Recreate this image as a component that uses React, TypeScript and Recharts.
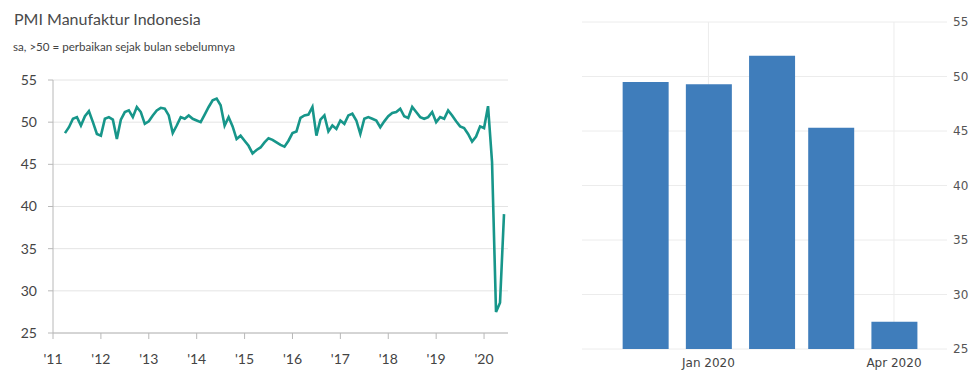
import { LineChart, Line, XAxis, YAxis, CartesianGrid, BarChart, Bar } from 'recharts';

// PMI Manufaktur Indonesia, monthly
const pmi2011 = [48.7, 49.4, 50.4, 50.6, 49.6, 50.7, 51.3, 50.0, 48.6]; // Apr–Dec
const pmi2012 = [48.4, 50.4, 50.6, 50.3, 48.0, 50.3, 51.2, 51.4, 50.6, 51.8, 51.2, 49.8];
const pmi2013 = [50.1, 50.8, 51.4, 51.7, 51.6, 50.8, 48.7, 49.6, 50.6, 50.4, 50.8, 50.4];
const pmi2014 = [50.2, 50.0, 50.9, 51.8, 52.6, 52.8, 52.0, 49.6, 50.6, 49.5, 48.0, 48.4];
const pmi2015 = [47.8, 47.2, 46.3, 46.7, 47.0, 47.6, 48.1, 47.9, 47.6, 47.3, 47.1, 47.8];
const pmi2016 = [48.7, 48.9, 50.5, 50.8, 50.9, 51.8, 48.4, 50.3, 50.8, 48.9, 49.6, 49.2];
const pmi2017 = [50.2, 49.8, 50.8, 51.0, 50.2, 48.6, 50.4, 50.6, 50.4, 50.2, 49.4, 50.1];
const pmi2018 = [50.7, 51.1, 51.2, 51.6, 50.7, 50.5, 51.8, 51.2, 50.6, 50.4, 50.6, 51.2];
const pmi2019 = [50.0, 50.6, 50.4, 51.4, 50.8, 50.1, 49.5, 49.3, 48.6, 47.7, 48.3, 49.5];
const pmi2020 = [49.3, 51.9, 45.3, 27.5, 28.6, 39.1]; // Jan–Jun

const yearTicks = [2011, 2012, 2013, 2014, 2015, 2016, 2017, 2018, 2019, 2020];
const pmiTicks = [25, 30, 35, 40, 45, 50, 55];

// right panel: last five months
const barMonths = ['2019-12', '2020-01', '2020-02', '2020-03', '2020-04'];
const barValues = [49.5, 49.3, 51.9, 45.3, 27.5];
const barTickMonths = ['2020-01', '2020-04'];
const monthNames = ['Jan', 'Feb', 'Mar', 'Apr', 'May', 'Jun', 'Jul', 'Aug', 'Sep', 'Oct', 'Nov', 'Dec'];

const pmiByYear: [number, number[]][] = [
  [2011, pmi2011],
  [2012, pmi2012],
  [2013, pmi2013],
  [2014, pmi2014],
  [2015, pmi2015],
  [2016, pmi2016],
  [2017, pmi2017],
  [2018, pmi2018],
  [2019, pmi2019],
  [2020, pmi2020]
];

const lineData = pmiByYear.flatMap(([year, vals]) => {
  const first = year === 2011 ? 12 - vals.length : 0;
  return vals.map((v, i) => ({ t: year + (first + i) / 12, pmi: v }));
});

const toTime = (m: string) => Date.UTC(Number(m.slice(0, 4)), Number(m.slice(5, 7)) - 1, 1);
const barData = barMonths.map((m, i) => ({ t: toTime(m), pmi: barValues[i] }));
const barTicks = barTickMonths.map(toTime);

const NARROW = "Lato, 'Open Sans', sans-serif";
const WIDE = "'DejaVu Sans', Verdana, sans-serif";

export default function App() {
  return (
    <div style={{ position: 'absolute', left: 0, top: 0, width: 970, height: 371, background: '#fff', overflow: 'hidden' }}>
      <div style={{ position: 'absolute', left: 14, top: 9, fontFamily: NARROW, fontSize: 16, color: '#4a4a4a', whiteSpace: 'nowrap' }}>
        PMI Manufaktur Indonesia
      </div>
      <div style={{ position: 'absolute', left: 13, top: 40, fontFamily: NARROW, fontSize: 11.6, color: '#444', whiteSpace: 'nowrap' }}>
        sa, &gt;50 = perbaikan sejak bulan sebelumnya
      </div>

      <div style={{ position: 'absolute', left: 0, top: 0 }}>
        <LineChart width={520} height={371} data={lineData} margin={{ top: 80, right: 12, left: 0, bottom: 0 }}>
          <CartesianGrid vertical={false} stroke="#e4e4e4" />
          <XAxis
            dataKey="t"
            type="number"
            domain={[2011, 2020.5]}
            ticks={yearTicks}
            tickFormatter={(v: number) => `'${String(v).slice(2)}`}
            height={38}
            stroke="#b8b8b8"
            tickSize={6}
            tickMargin={15}
            tick={{ fill: '#444', fontSize: 14, fontFamily: NARROW }}
          />
          <YAxis
            domain={[25, 55]}
            ticks={pmiTicks}
            width={53}
            stroke="#b8b8b8"
            tickSize={5}
            tickMargin={11}
            tick={{ fill: '#444', fontSize: 14, fontFamily: NARROW }}
          />
          <Line
            type="linear"
            dataKey="pmi"
            stroke="#17968a"
            strokeWidth={2.6}
            dot={false}
            isAnimationActive={false}
          />
        </LineChart>
      </div>

      <div style={{ position: 'absolute', left: 560, top: 0 }}>
        <BarChart width={410} height={371} data={barData} margin={{ top: 22, right: 0, left: 22, bottom: 0 }}>
          <CartesianGrid stroke="#ececec" syncWithTicks />
          <XAxis
            dataKey="t"
            type="number"
            scale="linear"
            domain={[Date.UTC(2019, 9, 31), Date.UTC(2020, 3, 27)]}
            ticks={barTicks}
            tickFormatter={(v: number) => {
              const d = new Date(v);
              return `${monthNames[d.getUTCMonth()]} ${d.getUTCFullYear()}`;
            }}
            height={22}
            axisLine={false}
            tickLine={false}
            tickSize={6}
            tickMargin={3}
            tick={{ fill: '#444', fontSize: 12, fontFamily: WIDE }}
          />
          <YAxis
            orientation="right"
            domain={[25, 55]}
            ticks={pmiTicks}
            width={23}
            axisLine={false}
            tickLine={false}
            tickSize={0}
            tickMargin={6}
            tick={{ fill: '#555', fontSize: 12, fontFamily: WIDE }}
          />
          <Bar dataKey="pmi" fill="#3f7dbb" barSize={46} isAnimationActive={false} />
        </BarChart>
      </div>
    </div>
  );
}
